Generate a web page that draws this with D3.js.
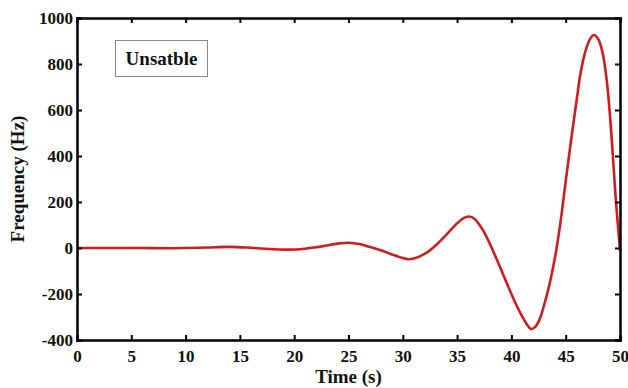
<!DOCTYPE html>
<html>
<head>
<meta charset="utf-8">
<script src="https://cdn.jsdelivr.net/npm/d3@7"></script>
<style>
    body { margin: 0; background: #fff; }
    text { font-family: "Liberation Serif", "Times New Roman", serif; font-weight: bold; fill: #111; }
</style>
</head>
<body>
<div id="div_placeholder"></div>
<script>
// data
var tijd = [0, 2, 4, 6, 8, 10, 12, 14, 16, 17, 18, 19.5, 21, 22, 23, 24, 25, 26, 27, 28, 29, 30, 30.5, 31, 32, 33, 34, 35, 35.6, 36.1,
    36.6, 37, 37.5, 38, 38.5, 39, 39.5, 40, 40.5, 41, 41.4, 41.8, 42.2, 42.6, 43, 43.5, 44, 44.5, 45, 45.5, 46, 46.3, 46.6, 46.9,
    47.2, 47.6, 48, 48.4, 48.8, 49.2, 49.6, 50];
var frequentie = [0, 0, 0, 0, -1, 0, 2, 5, 1, -2, -5, -7, -3, 3, 11, 19, 23, 17, 4, -10, -28, -44, -49, -46, -26, 10, 57, 107, 130, 137,
    127, 104, 68, 20, -33, -88, -145, -200, -252, -298, -330, -352, -343, -310, -250, -160, -45, 105, 290, 470, 640, 740, 815, 868,
    905, 926, 908, 848, 720, 500, 220, -10];
var xTicks = [0, 5, 10, 15, 20, 25, 30, 35, 40, 45, 50];
var yTicks = [-400, -200, 0, 200, 400, 600, 800, 1000];

var width = 628;
var height = 388;
var margin = { left: 77, right: 8, top: 18, bottom: 48 };

var svg = d3.select("#div_placeholder")
    .append("svg")
    .attr("width", width)
    .attr("height", height);

var x = d3.scaleLinear().domain([0, 50]).range([margin.left, width - margin.right]);
var y = d3.scaleLinear().domain([-400, 1000]).range([height - margin.bottom, margin.top]);

// curve
var lijn = d3.line()
    .x(function (d) { return x(d[0]); })
    .y(function (d) { return y(d[1]); })
    .curve(d3.curveCatmullRom.alpha(0.5));

svg.append("path")
    .datum(tijd.map(function (t, i) { return [t, frequentie[i]]; }))
    .attr("d", lijn)
    .attr("fill", "none")
    .attr("stroke", "#d01c1f")
    .attr("stroke-width", 2.6);

// axes, ticks inward on all sides
var tick = 5;
var plain = function (d) { return String(d); };
svg.append("g")
    .attr("transform", "translate(0," + y(-400) + ")")
    .call(d3.axisBottom(x).tickValues(xTicks).tickSize(-tick).tickPadding(10).tickFormat(plain))
    .call(function (g) { g.selectAll("text").style("font-size", "17px"); });
svg.append("g")
    .attr("transform", "translate(0," + y(1000) + ")")
    .call(d3.axisTop(x).tickValues(xTicks).tickSize(-tick).tickFormat(""));
svg.append("g")
    .attr("transform", "translate(" + x(0) + ",0)")
    .call(d3.axisLeft(y).tickValues(yTicks).tickSize(-tick).tickPadding(4).tickFormat(plain))
    .call(function (g) { g.selectAll("text").style("font-size", "17px"); });
svg.append("g")
    .attr("transform", "translate(" + x(50) + ",0)")
    .call(d3.axisRight(y).tickValues(yTicks).tickSize(-tick).tickFormat(""));

svg.selectAll(".domain").attr("stroke", "#000").attr("stroke-width", 2.5);
svg.selectAll(".tick line").attr("stroke", "#000").attr("stroke-width", 2);
svg.selectAll(".tick text").attr("fill", "#111");

// titles
svg.append("text")
    .attr("x", (x(0) + x(50)) / 2)
    .attr("y", 383)
    .attr("text-anchor", "middle")
    .style("font-size", "19px")
    .text("Time (s)");

svg.append("text")
    .attr("transform", "translate(24," + ((y(-400) + y(1000)) / 2) + ") rotate(-90)")
    .attr("text-anchor", "middle")
    .style("font-size", "19px")
    .text("Frequency (Hz)");

// label box
svg.append("rect")
    .attr("x", 115.5)
    .attr("y", 40.5)
    .attr("width", 92)
    .attr("height", 36)
    .attr("fill", "#fff")
    .attr("stroke", "#888")
    .attr("stroke-width", 1);

svg.append("text")
    .attr("x", 161.5)
    .attr("y", 65)
    .attr("text-anchor", "middle")
    .style("font-size", "19px")
    .text("Unsatble");
</script>
</body>
</html>
